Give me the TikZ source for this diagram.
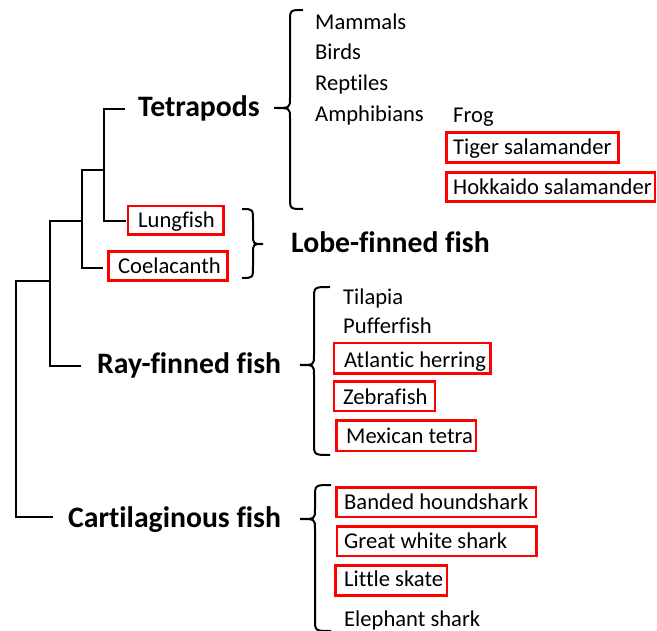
\documentclass[tikz,border=0pt]{standalone}
\usepackage{fontspec}
\setmainfont[Ligatures=NoCommon]{Carlito}
\newcommand\mybrace[6]{% end x, vertical x, tip x, top, mid, bottom
  \draw[bracestyle] (#1,#4) .. controls (#2,#4) .. (#2,#4+12) -- (#2,#5-10)
    .. controls (#2,#5) .. (#3,#5) .. controls (#2,#5) .. (#2,#5+10)
    -- (#2,#6-12) .. controls (#2,#6) .. (#1,#6);}
\begin{document}
\begin{tikzpicture}[x=1pt,y=-1pt,
  tree/.style={line width=2.2pt,line cap=rect},
  bracestyle/.style={line width=2pt},
  redbox/.style={draw=red,line width=2.2pt},
  big/.style={font=\fontsize{29.7}{33}\selectfont\bfseries,anchor=base west,inner sep=0pt},
  sp/.style={font=\fontsize{22.6}{26}\selectfont,anchor=base west,inner sep=0pt}]
\useasboundingbox (0,0) rectangle (657,631);
% tree coordinates
\coordinate (rT) at (16,281);
\coordinate (rB) at (16,517);
\coordinate (n1T) at (50,221);
\coordinate (n1B) at (50,366);
\coordinate (n2T) at (82,170);
\coordinate (n2B) at (82,268);
\coordinate (n3T) at (104,109);
\coordinate (n3B) at (104,221);
\coordinate (eTet) at (124,109);
\coordinate (eLung) at (125,221);
\coordinate (eCoel) at (102,268);
\coordinate (eRay) at (80,366);
\coordinate (eCart) at (52,517);
\coordinate (n1M) at (50,281);
\coordinate (n2M) at (82,221);
\coordinate (n3M) at (104,170);
\draw[tree] (eTet) -- (n3T) -- (n3B) -- (eLung);
\draw[tree] (n3M) -- (n2M |- n3M) -- (n2B) -- (eCoel);
\draw[tree] (n2T) -- (n2B);
\draw[tree] (n2M) -- (n1M |- n2M) -- (n1B) -- (eRay);
\draw[tree] (n1M) -- (rT) -- (rB) -- (eCart);
% group labels
\node[big] (tet) at (138,117) {Tetrapods};
\node[big] (lobe) at (291,253) {Lobe-finned fish};
\node[big] (ray) at (97,373.5) {Ray-finned fish};
\node[big] (cart) at (68,527) {Cartilaginous fish};
% braces
\mybrace{303}{290}{274}{10}{108}{209}
\mybrace{242}{253}{263}{209}{244}{278}
\mybrace{330}{314}{300}{287}{365}{455}
\mybrace{331}{315}{300}{485}{519}{631}
% red boxes
\draw[redbox] (128,206) rectangle (223.5,234.5);
\draw[redbox] (108.5,251.5) rectangle (227.5,280.5);
\draw[redbox] (446.5,132.5) rectangle (618.5,162.5);
\draw[redbox] (446.5,172.5) rectangle (655,201.5);
\draw[redbox] (334,343) rectangle (490.5,373.5);
\draw[redbox] (334,381.5) rectangle (435,411);
\draw[redbox] (336.5,420.5) rectangle (476,451);
\draw[redbox] (336.5,487.5) rectangle (536,517);
\draw[redbox] (337,526.5) rectangle (536.5,556);
\draw[redbox] (335.5,565.5) rectangle (447,595.5);
% species
\node[sp] (lung) at (138,227.7) {Lungfish};
\node[sp] (coel) at (118,273.3) {Coelacanth};
\node[sp] (mam) at (315,29.3) {Mammals};
\node[sp] (bird) at (315,60) {Birds};
\node[sp] (rep) at (315,90.7) {Reptiles};
\node[sp] (amp) at (315,121.7) {Amphibians};
\node[sp] (frog) at (453,123) {Frog};
\node[sp] (tiger) at (453,155) {Tiger salamander};
\node[sp] (hok) at (453,194.3) {Hokkaido salamander};
\node[sp] (til) at (343,304.3) {Tilapia};
\node[sp] (puf) at (343,333.3) {Pufferfish};
\node[sp] (atl) at (344,367.7) {Atlantic herring};
\node[sp] (zeb) at (343,404.3) {Zebrafish};
\node[sp] (mex) at (346,443.3) {Mexican tetra};
\node[sp] (band) at (344,510) {Banded houndshark};
\node[sp] (gws) at (344,548.3) {Great white shark};
\node[sp] (skate) at (344,586.7) {Little skate};
\node[sp] (eleph) at (344,626.7) {Elephant shark};
\end{tikzpicture}
\end{document}
